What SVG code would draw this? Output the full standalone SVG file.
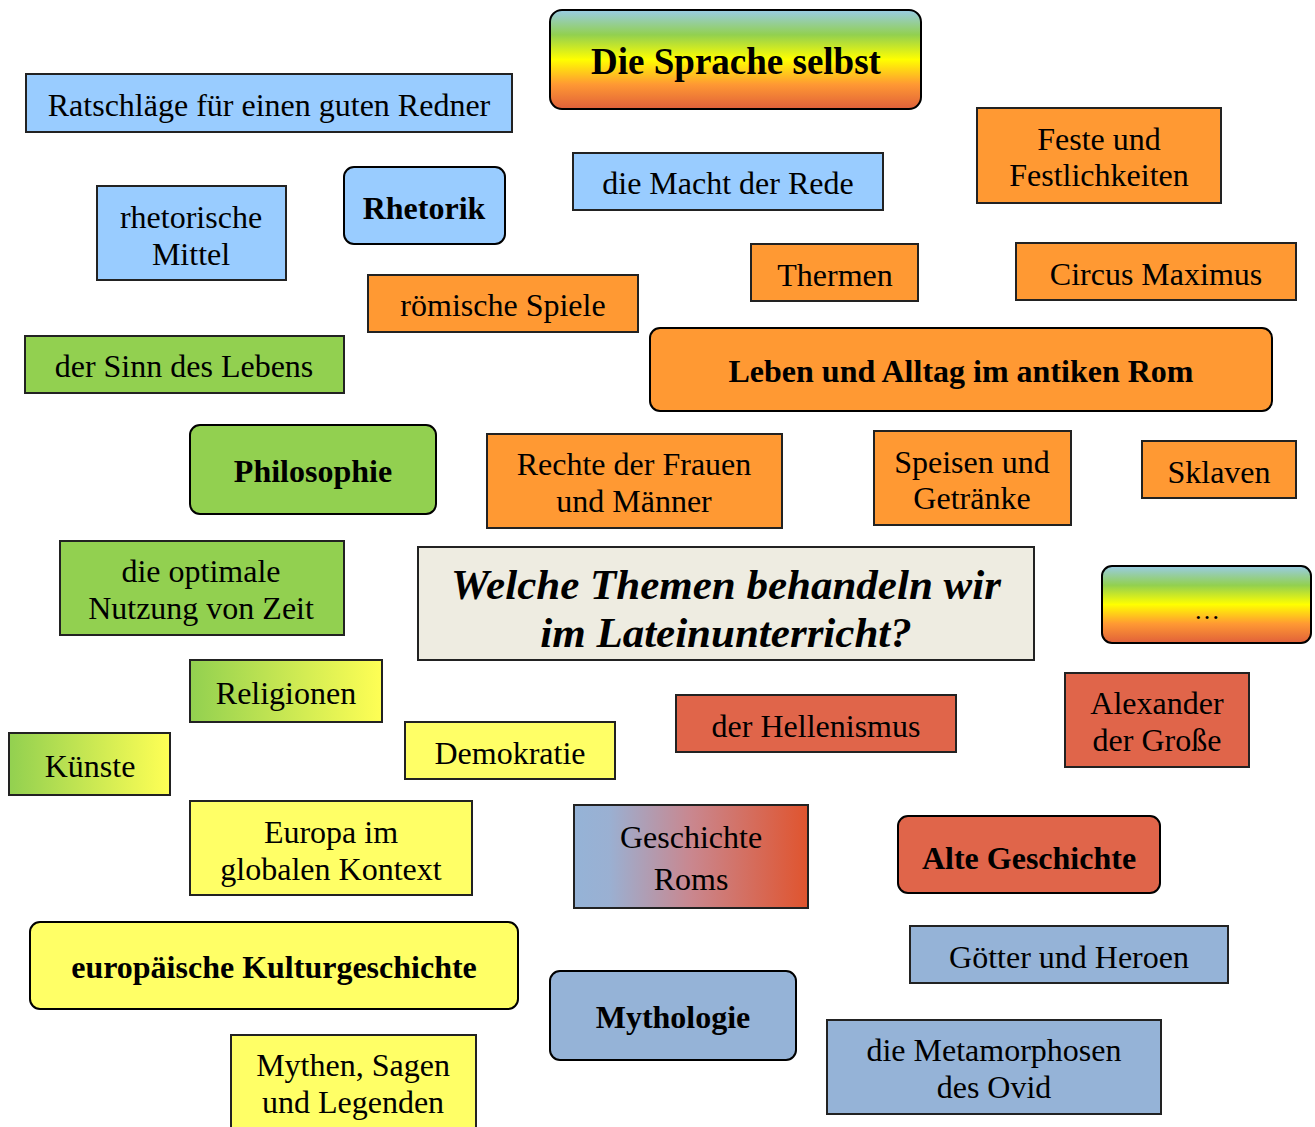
<svg xmlns="http://www.w3.org/2000/svg" width="1315" height="1127" viewBox="0 0 1315 1127">
<style>
text{font-family:"Liberation Serif","Times New Roman",serif;font-size:32px;fill:#000;text-anchor:middle}
.b{font-weight:bold;font-size:32px}
.t{font-weight:bold;font-style:italic;font-size:43px}
.n rect{stroke:#222;stroke-width:2}
.blue{fill:#99CCFF}
.or{fill:#FF9933}
.gr{fill:#92D050}
.ye{fill:#FFFF66}
.red{fill:#E0654A}
.sl{fill:#95B3D7}
.be{fill:#EEECE1}
.n rect.r{stroke:#000;stroke-width:2}
</style>
<defs>
<linearGradient id="rain" x1="0" y1="0" x2="0" y2="1">
<stop offset="0" stop-color="#99CCE6"/>
<stop offset="0.25" stop-color="#92D050"/>
<stop offset="0.5" stop-color="#FFFF00"/>
<stop offset="0.75" stop-color="#FF9933"/>
<stop offset="1" stop-color="#E0603A"/>
</linearGradient>
<linearGradient id="gy" x1="0" y1="0" x2="1" y2="0">
<stop offset="0" stop-color="#92D050"/>
<stop offset="1" stop-color="#FFFF55"/>
</linearGradient>
<linearGradient id="br" x1="0" y1="0" x2="1" y2="0">
<stop offset="0" stop-color="#95B3D7"/>
<stop offset="0.15" stop-color="#9AB0D2"/>
<stop offset="0.5" stop-color="#C9878F"/>
<stop offset="1" stop-color="#E0542E"/>
</linearGradient>
</defs>
<rect width="1315" height="1127" fill="#fff"/>
<g id="connectors"></g>
<g class="n">
<g id="n-sprache"><rect class="r" x="550" y="10" width="371" height="99" rx="12" fill="url(#rain)"/><text class="b" x="736" y="74" style="font-size:37px">Die Sprache selbst</text></g>
<g id="n-ratschlaege"><rect class="blue" x="26" y="74" width="486" height="58"/><text x="269" y="116">Ratschläge für einen guten Redner</text></g>
<g id="n-mittel"><rect class="blue" x="97" y="186" width="189" height="94"/><text x="191" y="228">rhetorische</text><text x="191" y="265">Mittel</text></g>
<g id="n-rhetorik"><rect class="blue r" x="344" y="167" width="161" height="77" rx="10"/><text class="b" x="424" y="219">Rhetorik</text></g>
<g id="n-macht"><rect class="blue" x="573" y="153" width="310" height="57"/><text x="728" y="194">die Macht der Rede</text></g>
<g id="n-feste"><rect class="or" x="977" y="108" width="244" height="95"/><text x="1099" y="150">Feste und</text><text x="1099" y="186">Festlichkeiten</text></g>
<g id="n-thermen"><rect class="or" x="751" y="244" width="167" height="57"/><text x="835" y="286">Thermen</text></g>
<g id="n-circus"><rect class="or" x="1016" y="243" width="280" height="57"/><text x="1156" y="285">Circus Maximus</text></g>
<g id="n-spiele"><rect class="or" x="368" y="275" width="270" height="57"/><text x="503" y="316">römische Spiele</text></g>
<g id="n-sinn"><rect class="gr" x="25" y="336" width="319" height="57"/><text x="184" y="377">der Sinn des Lebens</text></g>
<g id="n-leben"><rect class="or r" x="650" y="328" width="622" height="83" rx="10"/><text class="b" x="961" y="382">Leben und Alltag im antiken Rom</text></g>
<g id="n-philosophie"><rect class="gr r" x="190" y="425" width="246" height="89" rx="10"/><text class="b" x="313" y="482">Philosophie</text></g>
<g id="n-rechte"><rect class="or" x="487" y="434" width="295" height="94"/><text x="634" y="475">Rechte der Frauen</text><text x="634" y="512">und Männer</text></g>
<g id="n-speisen"><rect class="or" x="874" y="431" width="197" height="94"/><text x="972" y="473">Speisen und</text><text x="972" y="509">Getränke</text></g>
<g id="n-sklaven"><rect class="or" x="1142" y="441" width="154" height="57"/><text x="1219" y="483">Sklaven</text></g>
<g id="n-zeit"><rect class="gr" x="60" y="541" width="284" height="94"/><text x="201" y="582">die optimale</text><text x="201" y="619">Nutzung von Zeit</text></g>
<g id="n-welche"><rect class="be" x="418" y="547" width="616" height="113"/><text class="t" x="726" y="599">Welche Themen behandeln wir</text><text class="t" x="726" y="647">im Lateinunterricht?</text></g>
<g id="n-dots"><rect class="r" x="1102" y="566" width="209" height="77" rx="10" fill="url(#rain)"/><text x="1207" y="619" style="font-size:26px">…</text></g>
<g id="n-religionen"><rect x="190" y="660" width="192" height="62" fill="url(#gy)"/><text x="286" y="704">Religionen</text></g>
<g id="n-kuenste"><rect x="9" y="733" width="161" height="62" fill="url(#gy)"/><text x="90" y="777">Künste</text></g>
<g id="n-demokratie"><rect class="ye" x="405" y="722" width="210" height="57"/><text x="510" y="764">Demokratie</text></g>
<g id="n-hellenismus"><rect class="red" x="676" y="695" width="280" height="57"/><text x="816" y="737">der Hellenismus</text></g>
<g id="n-alexander"><rect class="red" x="1065" y="673" width="184" height="94"/><text x="1157" y="714">Alexander</text><text x="1157" y="751">der Große</text></g>
<g id="n-europa"><rect class="ye" x="190" y="801" width="282" height="94"/><text x="331" y="843">Europa im</text><text x="331" y="880">globalen Kontext</text></g>
<g id="n-geschichte-roms"><rect x="574" y="805" width="234" height="103" fill="url(#br)"/><text x="691" y="848">Geschichte</text><text x="691" y="890">Roms</text></g>
<g id="n-alte"><rect class="red r" x="898" y="816" width="262" height="77" rx="10"/><text class="b" x="1029" y="869">Alte Geschichte</text></g>
<g id="n-goetter"><rect class="sl" x="910" y="926" width="318" height="57"/><text x="1069" y="968">Götter und Heroen</text></g>
<g id="n-kultur"><rect class="ye r" x="30" y="922" width="488" height="87" rx="10"/><text class="b" x="274" y="978">europäische Kulturgeschichte</text></g>
<g id="n-mythologie"><rect class="sl r" x="550" y="971" width="246" height="89" rx="10"/><text class="b" x="673" y="1028">Mythologie</text></g>
<g id="n-metamorphosen"><rect class="sl" x="827" y="1020" width="334" height="94"/><text x="994" y="1061">die Metamorphosen</text><text x="994" y="1098">des Ovid</text></g>
<g id="n-mythen"><rect class="ye" x="231" y="1035" width="245" height="100"/><text x="353" y="1076">Mythen, Sagen</text><text x="353" y="1113">und Legenden</text></g>
</g>
</svg>
